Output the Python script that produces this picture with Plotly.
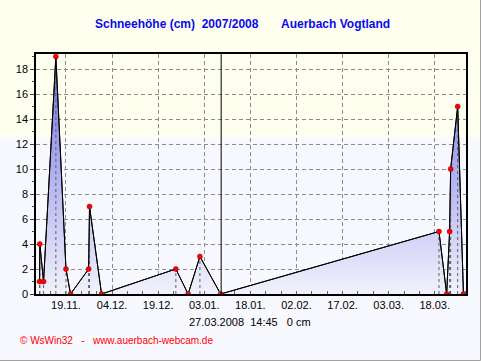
import plotly.graph_objects as go

# ---- data ----
dates = [
    "2007-11-10 10:00", "2007-11-10 12:00", "2007-11-11 17:00", "2007-11-15 17:00",
    "2007-11-19 00:00", "2007-11-20 12:00", "2007-11-26 09:00", "2007-11-26 16:00",
    "2007-11-30 14:00", "2007-12-24 18:00", "2007-12-28 18:00", "2008-01-01 14:00",
    "2008-01-08 08:00", "2008-03-19 09:00", "2008-03-21 21:00", "2008-03-22 20:00",
    "2008-03-23 04:00", "2008-03-25 11:00", "2008-03-27 08:00",
]
snow_cm = [1, 4, 1, 19, 2, 0, 2, 7, 0, 2, 0, 3, 0, 5, 0, 5, 10, 15, 0]

tick_dates = ["2007-11-19", "2007-12-04", "2007-12-19", "2008-01-03", "2008-01-18",
              "2008-02-02", "2008-02-17", "2008-03-03", "2008-03-18"]
tick_labels = ["19.11.", "04.12.", "19.12.", "03.01.", "18.01.",
               "02.02.", "17.02.", "03.03.", "18.03."]
y_ticks = [0, 2, 4, 6, 8, 10, 12, 14, 16, 18]

x_range = ["2007-11-09 06:00", "2008-03-28 04:00"]
y_range = [0, 19.2]
marker_date = "2008-01-08 12:00"

title_left = "Schneehöhe (cm)\u00a0\u00a02007/2008"
title_right = "Auerbach Vogtland"
status_text = "27.03.2008\u00a0\u00a014:45\u00a0\u00a0\u00a00 cm"
footer_text = "© WsWin32\u00a0\u00a0\u00a0-\u00a0\u00a0\u00a0www.auerbach-webcam.de"

FONT = "Liberation Sans, Arial, sans-serif"

# dotted drop lines
drop_x, drop_y = [], []
for d, v in zip(dates, snow_cm):
    drop_x += [d, d, None]
    drop_y += [0, v, None]

fig = go.Figure()
fig.add_trace(go.Scatter(
    x=dates, y=snow_cm, mode="lines", fill="tozeroy",
    line=dict(color="black", width=1),
    fillgradient=dict(type="vertical", start=0, stop=19,
                      colorscale=[[0, "#F2F2FC"], [1, "#7070E6"]]),
    hoverinfo="skip", showlegend=False,
))
fig.add_trace(go.Scatter(
    x=drop_x, y=drop_y, mode="lines",
    line=dict(color="#606060", width=1, dash="dot"),
    hoverinfo="skip", showlegend=False,
))
fig.add_trace(go.Scatter(
    x=dates, y=snow_cm, mode="lines+markers",
    line=dict(color="black", width=1),
    marker=dict(color="#FF0000", size=5, line=dict(color="#800000", width=0.5)),
    showlegend=False,
))

L, R, T, B = 36, 15, 54, 67
W, H = 481, 361
pw, ph = W - L - R, H - T - B


def px_x(x):
    return (x - L) / pw


def px_y(y):
    return (H - B - y) / ph


shapes = [
    # cream top band of the background
    dict(type="rect", xref="paper", yref="paper", x0=px_x(0), x1=px_x(W),
         y0=px_y(137), y1=px_y(0), fillcolor="#FFFFF0", line=dict(width=0), layer="below"),
    # vertical marker line
    dict(type="line", xref="x", yref="paper", x0=marker_date, x1=marker_date, y0=0, y1=1,
         line=dict(color="black", width=1)),
    # outer border (right and bottom)
    dict(type="line", xref="paper", yref="paper", x0=px_x(480.5), x1=px_x(480.5),
         y0=px_y(0), y1=px_y(360.5), line=dict(color="#A0A0A0", width=1)),
    dict(type="line", xref="paper", yref="paper", x0=px_x(0), x1=px_x(480.5),
         y0=px_y(360.5), y1=px_y(360.5), line=dict(color="#A0A0A0", width=1)),
]

annotations = [
    dict(text=title_left, xref="paper", yref="paper", x=px_x(93), y=px_y(24),
         xanchor="left", yanchor="middle", showarrow=False,
         font=dict(family=FONT, size=12, color="#0A0AF0", weight="bold")),
    dict(text=title_right, xref="paper", yref="paper", x=px_x(279), y=px_y(24),
         xanchor="left", yanchor="middle", showarrow=False,
         font=dict(family=FONT, size=12, color="#0A0AF0", weight="bold")),
    dict(text=status_text, xref="paper", yref="paper", x=px_x(250), y=px_y(322),
         xanchor="center", yanchor="middle", showarrow=False,
         font=dict(family=FONT, size=11, color="black")),
    dict(text=footer_text, xref="paper", yref="paper", x=px_x(18), y=px_y(340),
         xanchor="left", yanchor="middle", showarrow=False,
         font=dict(family=FONT, size=10, color="#FF0000")),
]

fig.update_layout(
    width=W, height=H,
    margin=dict(l=L, r=R, t=T, b=B, pad=0),
    paper_bgcolor="#F8F8FF",
    plot_bgcolor="rgba(0,0,0,0)",
    font=dict(family=FONT, size=11, color="black"),
    shapes=shapes,
    annotations=annotations,
    xaxis=dict(
        type="date", range=x_range,
        tickmode="array", tickvals=tick_dates, ticktext=tick_labels,
        ticks="", showgrid=True, gridcolor="#8C8C8C", griddash="4px,3px", gridwidth=1,
        showline=True, linecolor="black", linewidth=1.5, mirror=True,
        zeroline=False, tickfont=dict(size=11),
        minor=dict(dtick=5 * 86400000, tick0="2007-11-09", ticks="inside",
                   ticklen=3, tickcolor="#606060", showgrid=False),
    ),
    yaxis=dict(
        range=y_range, tickmode="array", tickvals=y_ticks,
        ticks="outside", ticklen=4, tickcolor="#404040",
        showgrid=True, gridcolor="#8C8C8C", griddash="4px,3px", gridwidth=1,
        showline=True, linecolor="black", linewidth=1.5, mirror=True,
        zeroline=False, tickfont=dict(size=11),
        minor=dict(dtick=1, tick0=0, ticks="outside", ticklen=2,
                   tickcolor="#404040", showgrid=False),
    ),
)

fig.write_html(
    "out.html",
    config={"displayModeBar": False},
    post_script="document.body.style.margin='0';document.body.style.overflow='hidden';"
                "document.body.style.background='#F8F8FF';",
)
